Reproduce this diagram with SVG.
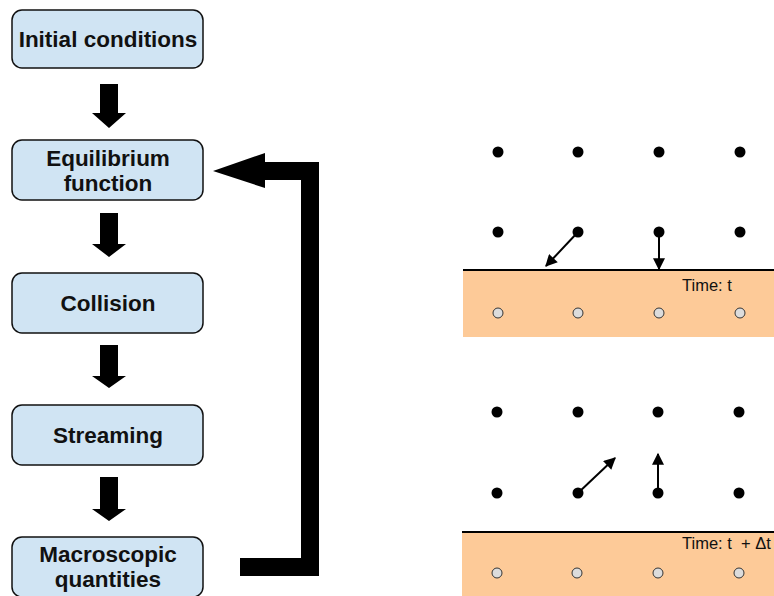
<svg xmlns="http://www.w3.org/2000/svg" width="774" height="596" viewBox="0 0 774 596">
<defs>
<style>
.box{fill:#d0e4f3;stroke:#111;stroke-width:1.5}
.lbl{font-family:"Liberation Sans",Arial,sans-serif;font-weight:bold;font-size:22.5px;fill:#111;text-anchor:middle}
.blk{fill:#000}
.dot{fill:#000}
.hol{fill:#dcdcdc;stroke:#333;stroke-width:1}
.band{fill:#fdca98}
.edge{stroke:#000;stroke-width:2}
.vec{stroke:#000;stroke-width:2;fill:none}
.time{font-family:"Liberation Sans",Arial,sans-serif;font-size:16.5px;fill:#111;white-space:pre}
</style>
<marker id="ah" viewBox="0 0 10 10" refX="9" refY="5" markerWidth="7" markerHeight="6" markerUnits="strokeWidth" orient="auto">
<path d="M0,0 L10,5 L0,10 z" fill="#000"/>
</marker>
</defs>

<g id="node-initial">
<rect class="box" x="12" y="10" width="191" height="58" rx="10"/>
<text class="lbl" x="108" y="47">Initial conditions</text>
</g>
<g id="node-equilibrium">
<rect class="box" x="12" y="140" width="191" height="60" rx="10"/>
<text class="lbl" x="108" y="166">Equilibrium</text>
<text class="lbl" x="108" y="191">function</text>
</g>
<g id="node-collision">
<rect class="box" x="12" y="273" width="191" height="60" rx="10"/>
<text class="lbl" x="108" y="311">Collision</text>
</g>
<g id="node-streaming">
<rect class="box" x="12" y="405" width="191" height="60" rx="10"/>
<text class="lbl" x="108" y="443">Streaming</text>
</g>
<g id="node-macroscopic">
<rect class="box" x="12" y="537" width="191" height="60" rx="10"/>
<text class="lbl" x="108" y="562">Macroscopic</text>
<text class="lbl" x="108" y="587">quantities</text>
</g>

<g id="connectors">
<polygon class="blk" points="100,84 118,84 118,113 126,113 109,128 92,113 100,113"/>
<polygon class="blk" points="100,213 118,213 118,244 126,244 109,257 92,244 100,244"/>
<polygon class="blk" points="100,345 118,345 118,376 126,376 109,388 92,376 100,376"/>
<polygon class="blk" points="100,477 118,477 118,509 126,509 109,521 92,509 100,509"/>
<polygon class="blk" points="240,558 301,558 301,180 265,180 265,188 213,171 265,153 265,162 319,162 319,576 240,576"/>
</g>

<g id="lattice-t">
<rect class="band" x="463" y="270" width="311" height="67"/>
<line class="edge" x1="463" y1="270" x2="774" y2="270"/>
<circle class="dot" cx="498" cy="152" r="5.5"/>
<circle class="dot" cx="578" cy="152" r="5.5"/>
<circle class="dot" cx="659" cy="152" r="5.5"/>
<circle class="dot" cx="740" cy="152" r="5.5"/>
<circle class="dot" cx="498" cy="232" r="5.5"/>
<circle class="dot" cx="578" cy="232" r="5.5"/>
<circle class="dot" cx="659" cy="232" r="5.5"/>
<circle class="dot" cx="740" cy="232" r="5.5"/>
<circle class="hol" cx="498" cy="313" r="5"/>
<circle class="hol" cx="578" cy="313" r="5"/>
<circle class="hol" cx="659" cy="313" r="5"/>
<circle class="hol" cx="740" cy="313" r="5"/>
<line class="vec" x1="578" y1="232" x2="546" y2="266" marker-end="url(#ah)"/>
<line class="vec" x1="659" y1="232" x2="659" y2="269" marker-end="url(#ah)"/>
<text class="time" x="682" y="291">Time: t</text>
</g>

<g id="lattice-t-dt">
<rect class="band" x="462" y="532" width="312" height="64"/>
<line class="edge" x1="462" y1="532" x2="774" y2="532"/>
<circle class="dot" cx="497" cy="412" r="5.5"/>
<circle class="dot" cx="578" cy="412" r="5.5"/>
<circle class="dot" cx="658" cy="412" r="5.5"/>
<circle class="dot" cx="739" cy="412" r="5.5"/>
<circle class="dot" cx="497" cy="493" r="5.5"/>
<circle class="dot" cx="578" cy="493" r="5.5"/>
<circle class="dot" cx="658" cy="493" r="5.5"/>
<circle class="dot" cx="739" cy="493" r="5.5"/>
<circle class="hol" cx="497" cy="573" r="5"/>
<circle class="hol" cx="577" cy="573" r="5"/>
<circle class="hol" cx="658" cy="573" r="5"/>
<circle class="hol" cx="739" cy="573" r="5"/>
<line class="vec" x1="578" y1="493" x2="615" y2="458" marker-end="url(#ah)"/>
<line class="vec" x1="658" y1="493" x2="658" y2="454" marker-end="url(#ah)"/>
<text class="time" x="682" y="549">Time: t  + Δt</text>
</g>
</svg>
